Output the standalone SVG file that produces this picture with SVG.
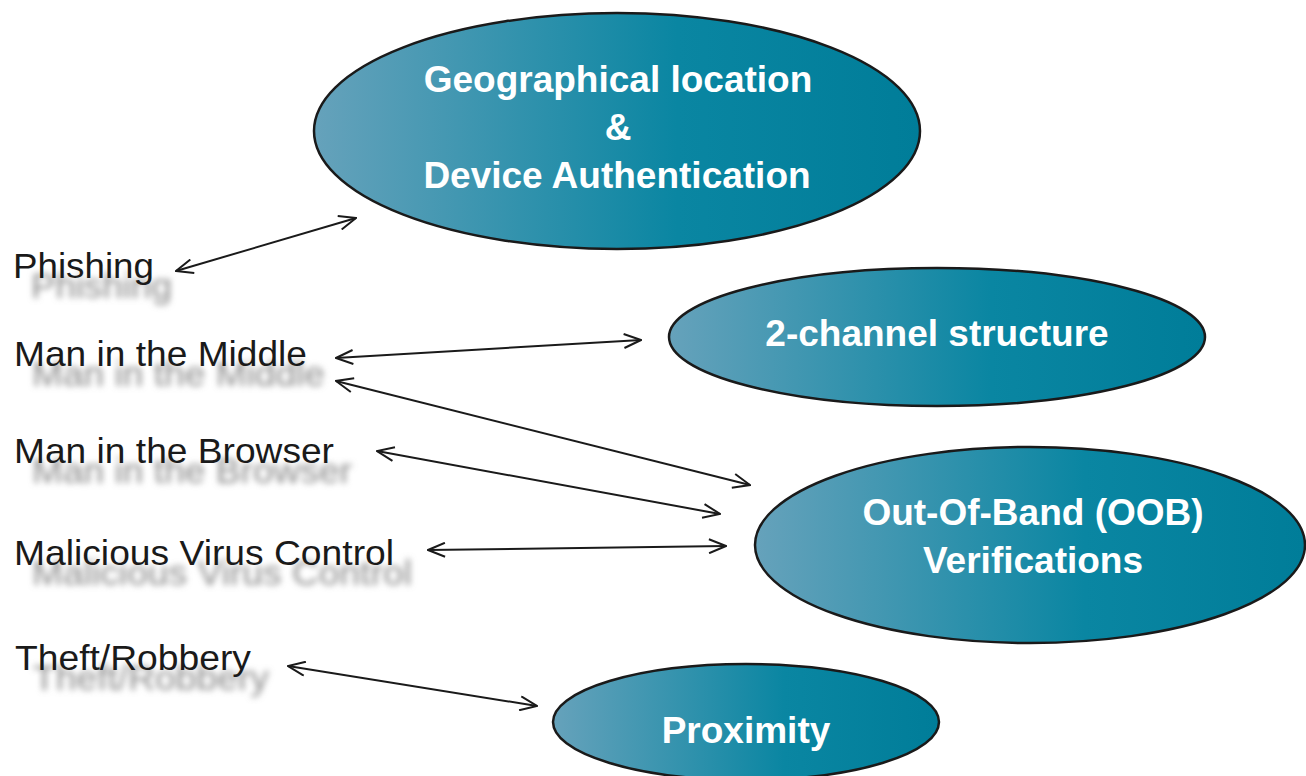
<svg xmlns="http://www.w3.org/2000/svg" width="1306" height="776" viewBox="0 0 1306 776">
<defs>
<linearGradient id="g" x1="0" y1="0" x2="1" y2="0">
<stop offset="0" stop-color="#66a2bb"/>
<stop offset="0.6" stop-color="#0a86a2"/>
<stop offset="1" stop-color="#007d99"/>
</linearGradient>
<filter id="blur" x="-10%" y="-50%" width="120%" height="200%"><feGaussianBlur stdDeviation="3"/></filter>
<marker id="ah" viewBox="0 0 20 16" refX="19" refY="8" markerWidth="20" markerHeight="16" markerUnits="userSpaceOnUse" orient="auto-start-reverse">
<path d="M2,1 L19,8 L2,15" fill="none" stroke="#1a1a1a" stroke-width="2"/>
</marker>
</defs>
<style>
.node ellipse{fill:url(#g);stroke:#1a1a1a;stroke-width:2.5}
.t{font-family:"Liberation Sans",Arial,sans-serif;font-weight:bold;font-size:37px;fill:#fff;text-anchor:middle}
.lab{font-family:"Liberation Sans",Arial,sans-serif;font-size:35px;fill:#1a1a1a}
.sh{font-family:"Liberation Sans",Arial,sans-serif;font-size:35px;fill:#8a8a8a;filter:url(#blur)}
.c line{stroke:#1a1a1a;stroke-width:2;marker-start:url(#ah);marker-end:url(#ah)}
</style>
<rect width="1306" height="776" fill="#fff"/>
<g id="labels">
<text class="sh" x="31" y="298" textLength="141" lengthAdjust="spacingAndGlyphs">Phishing</text>
<text class="sh" x="32" y="386" textLength="293" lengthAdjust="spacingAndGlyphs">Man in the Middle</text>
<text class="sh" x="32" y="483" textLength="320" lengthAdjust="spacingAndGlyphs">Man in the Browser</text>
<text class="sh" x="32" y="585" textLength="380" lengthAdjust="spacingAndGlyphs">Malicious Virus Control</text>
<text class="sh" x="33" y="690" textLength="236" lengthAdjust="spacingAndGlyphs">Theft/Robbery</text>
</g>
<g id="phishing"><text class="lab" x="13" y="278" textLength="141" lengthAdjust="spacingAndGlyphs">Phishing</text></g>
<g id="mitm"><text class="lab" x="14" y="366" textLength="293" lengthAdjust="spacingAndGlyphs">Man in the Middle</text></g>
<g id="mitb"><text class="lab" x="14" y="463" textLength="320" lengthAdjust="spacingAndGlyphs">Man in the Browser</text></g>
<g id="malicious"><text class="lab" x="14" y="565" textLength="380" lengthAdjust="spacingAndGlyphs">Malicious Virus Control</text></g>
<g id="theft"><text class="lab" x="15" y="670" textLength="236" lengthAdjust="spacingAndGlyphs">Theft/Robbery</text></g>
<g id="geo" class="node">
<ellipse cx="617" cy="131" rx="303" ry="118"/>
<text class="t" x="618" y="92">Geographical location</text>
<text class="t" x="618" y="140">&amp;</text>
<text class="t" x="617" y="188">Device Authentication</text>
</g>
<g id="twochannel" class="node">
<ellipse cx="937" cy="337" rx="268" ry="69"/>
<text class="t" x="937" y="346">2-channel structure</text>
</g>
<g id="oob" class="node">
<ellipse cx="1030" cy="545" rx="275" ry="98"/>
<text class="t" x="1033" y="525">Out-Of-Band (OOB)</text>
<text class="t" x="1033" y="573">Verifications</text>
</g>
<g id="proximity" class="node">
<ellipse cx="746" cy="722" rx="193" ry="58"/>
<text class="t" x="746" y="743">Proximity</text>
</g>
<g id="connectors" class="c">
<line x1="176" y1="271" x2="356" y2="218"/>
<line x1="336" y1="358" x2="641" y2="340"/>
<line x1="336" y1="381" x2="750" y2="485"/>
<line x1="377" y1="451" x2="720" y2="514"/>
<line x1="428" y1="550" x2="726" y2="546"/>
<line x1="288" y1="666" x2="537" y2="706"/>
</g>
</svg>
